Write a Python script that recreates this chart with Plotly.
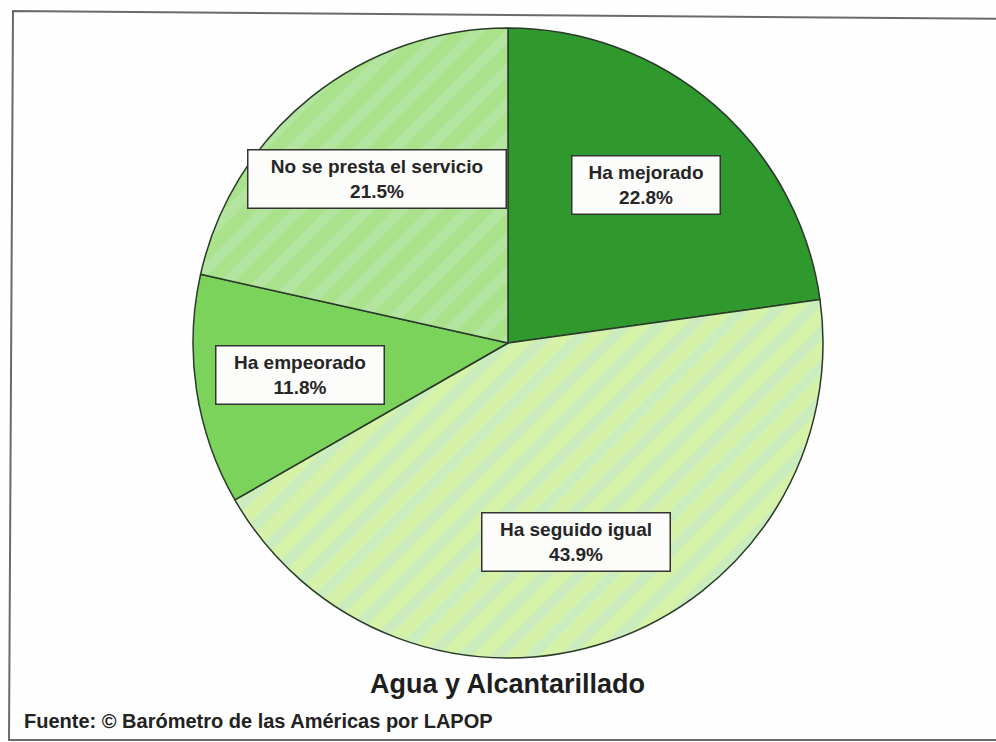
import math
import plotly.graph_objects as go

# ---- data ----
categories = ["Ha mejorado", "Ha seguido igual", "Ha empeorado", "No se presta el servicio"]
values = [22.8, 43.9, 11.8, 21.5]
chart_title = "Agua y Alcantarillado"
source_note = "Fuente: © Barómetro de las Américas por LAPOP"

# ---- styles ----
W, H = 996, 742
slice_colors = ["#2f992e", "#d6f2a8", "#7bd35b", "#a9e28b"]
pattern_fg = ["#2f992e", "#bfe8d2", "#7bd35b", "#bde8b8"]
pattern_shape = ["", "/", "", "/"]
box_widths = [150, 190, 170, 260]
box_height = 60
cx_px, cy_px, r_px = 508, 343, 315
label_r = 0.667
font_family = "Liberation Sans, Arial, sans-serif"

dom_x = [(cx_px - r_px) / W, (cx_px + r_px) / W]
dom_y = [1 - (cy_px + r_px) / H, 1 - (cy_px - r_px) / H]

fig = go.Figure(go.Pie(
    labels=categories,
    values=values,
    sort=False,
    direction="clockwise",
    rotation=0,
    textinfo="none",
    hoverinfo="label+percent",
    marker=dict(
        colors=slice_colors,
        line=dict(color="#2a3a2a", width=1.5),
        pattern=dict(shape=pattern_shape, fgcolor=pattern_fg, fgopacity=0.5,
                     size=24, solidity=0.45, fillmode="overlay"),
    ),
    domain=dict(x=dom_x, y=dom_y),
    showlegend=False,
))

# label boxes at the middle angle of each slice
total = sum(values)
cum = 0.0
annotations = []
for cat, v, bw in zip(categories, values, box_widths):
    mid = (cum + v / 2) / total * 2 * math.pi
    cum += v
    px = cx_px + label_r * r_px * math.sin(mid)
    py = cy_px - label_r * r_px * math.cos(mid)
    annotations.append(dict(
        x=px / W, y=1 - py / H, xref="paper", yref="paper",
        text=f"<b>{cat}</b><br><b>{v:.1f}%</b>", showarrow=False,
        font=dict(family=font_family, size=19, color="#262626"),
        bgcolor="#fcfcfa", bordercolor="#333333", borderwidth=1.5, borderpad=3,
        width=bw - 9, height=box_height - 9, align="center", valign="middle",
        xanchor="center", yanchor="middle",
    ))

annotations.append(dict(
    x=507 / W, y=1 - 684 / H, xref="paper", yref="paper", text=f"<b>{chart_title}</b>",
    showarrow=False, xanchor="center", yanchor="middle",
    font=dict(family=font_family, size=27, color="#1e1e1e"),
))
annotations.append(dict(
    x=22 / W, y=1 - 721 / H, xref="paper", yref="paper", text=f"<b>{source_note}</b>",
    showarrow=False, xanchor="left", yanchor="middle",
    font=dict(family=font_family, size=20, color="#222222"),
))

shapes = [dict(
    type="path", xref="paper", yref="paper",
    path=f"M {1.02} {1 - 19 / H} L {13 / W} {1 - 11 / H} L {9 / W} {1 - 740 / H} L {1.02} {1 - 740 / H}",
    line=dict(color="#6a6a6a", width=2), fillcolor="rgba(0,0,0,0)",
)]

fig.update_layout(
    width=W, height=H,
    margin=dict(l=0, r=0, t=0, b=0),
    paper_bgcolor="#fefefe",
    plot_bgcolor="#fefefe",
    annotations=annotations,
    shapes=shapes,
)

fig.write_html(
    "out.html", include_plotlyjs=True, config={"displayModeBar": False},
    post_script="document.body.style.margin='0';document.body.style.overflow='hidden';",
)
